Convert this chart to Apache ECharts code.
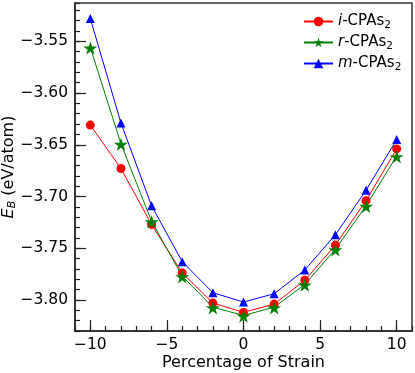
<!DOCTYPE html>
<html>
<head>
<meta charset="utf-8">
<script src="https://cdn.jsdelivr.net/npm/echarts@6/dist/echarts.min.js"></script>
<style>
  html, body { margin: 0; padding: 0; background: #fff; }
  #chart { width: 415px; height: 373px; }
</style>
</head>
<body>
<div id="chart"></div>
<script>
// strain values (%)
const strain = [-10, -8, -6, -4, -2, 0, 2, 4, 6, 8, 10]

// binding energies (eV/atom)
const iCPAs2 = [-3.631, -3.673, -3.727, -3.774, -3.803, -3.812, -3.804, -3.781, -3.747, -3.704, -3.654]
const rCPAs2 = [-3.556, -3.649, -3.724, -3.777, -3.807, -3.815, -3.807, -3.785, -3.751, -3.709, -3.661]
const mCPAs2 = [-3.528, -3.629, -3.709, -3.763, -3.793, -3.802, -3.794, -3.771, -3.737, -3.694, -3.645]

const xMajorTicks = [-10, -5, 0, 5, 10]
const yMajorTicks = [-3.80, -3.75, -3.70, -3.65, -3.60, -3.55]

const FONT = 'DejaVu Sans'
const STAR = 'path://M100,0L122.45,69.1L195.1,69.1L136.3,111.8L158.8,180.9L100,138.2L41.2,180.9L63.7,111.8L4.9,69.1L77.55,69.1Z'

const fmt = v => (v < 0 ? '\u2212' : '') + Math.abs(v)

const chart = echarts.init(document.getElementById('chart'))

const pairs = ys => strain.map((x, i) => [x, ys[i]])

const legendRich = {
  it: { fontFamily: FONT, fontSize: 15, fontStyle: 'italic', color: '#000' },
  n: { fontFamily: FONT, fontSize: 15, color: '#000' },
  sub: { fontFamily: FONT, fontSize: 10.5, color: '#000', verticalAlign: 'bottom', padding: [8, 0, 0, 0] }
}

// fresh objects for every axis
const spine = () => ({ show: true, onZero: false, lineStyle: { color: '#333', width: 1.5 } })
const minorTick = () => ({ show: true, inside: true, length: 5, lineStyle: { color: '#222', width: 1.2 } })
const majorTick = vals => ({ show: true, inside: true, length: 11, customValues: vals, lineStyle: { color: '#222', width: 1.2 } })
const noSplit = () => ({ show: true, lineStyle: { opacity: 0 } })

const option = {
  animation: false,
  grid: {
    left: 75, right: 3, top: 3, bottom: 42,
    outerBoundsMode: 'none',
    show: true, borderColor: '#333', borderWidth: 1.5
  },
  legend: {
    orient: 'vertical',
    left: 298,
    top: 9,
    itemWidth: 29,
    itemHeight: 12,
    itemGap: 4,
    textStyle: { fontFamily: FONT, fontSize: 15, color: '#000', rich: legendRich },
    formatter: name => {
      const p = name.split('-')
      return '{it|' + p[0] + '}{n|-CPAs}{sub|2}'
    },
    data: ['i-CPAs2', 'r-CPAs2', 'm-CPAs2']
  },
  xAxis: [
    {
      type: 'value', min: -11, max: 11, interval: 1, position: 'bottom',
      axisLine: spine(),
      axisTick: minorTick(),
      axisLabel: { show: false },
      splitLine: noSplit()
    },
    {
      type: 'value', min: -11, max: 11, position: 'bottom',
      axisLine: spine(),
      axisTick: majorTick(xMajorTicks),
      axisLabel: {
        customValues: xMajorTicks, formatter: fmt, margin: 6,
        fontFamily: FONT, fontSize: 15.5, color: '#000'
      },
      splitLine: noSplit(),
      name: 'Percentage of Strain',
      nameLocation: 'middle',
      nameGap: 24,
      nameMoveOverlap: false,
      nameTextStyle: { fontFamily: FONT, fontSize: 16, color: '#000' }
    }
  ],
  yAxis: [
    {
      type: 'value', min: -3.83, max: -3.513, interval: 0.01, position: 'left',
      axisLine: spine(),
      axisTick: minorTick(),
      axisLabel: { show: false },
      splitLine: noSplit()
    },
    {
      type: 'value', min: -3.83, max: -3.513, position: 'left',
      axisLine: spine(),
      axisTick: majorTick(yMajorTicks),
      axisLabel: {
        customValues: yMajorTicks, margin: 7,
        formatter: v => '\u2212' + Math.abs(v).toFixed(2),
        fontFamily: FONT, fontSize: 15.5, color: '#000'
      },
      splitLine: noSplit(),
      name: '{it|E}{sub|B}{n| (eV/atom)}',
      nameLocation: 'middle',
      nameGap: 57,
      nameMoveOverlap: false,
      nameTextStyle: {
        fontFamily: FONT, fontSize: 16, color: '#000',
        rich: {
          it: { fontFamily: FONT, fontSize: 16, fontStyle: 'italic', color: '#000' },
          n: { fontFamily: FONT, fontSize: 16, color: '#000' },
          sub: { fontFamily: FONT, fontSize: 11, fontStyle: 'italic', color: '#000', verticalAlign: 'bottom', padding: [8, 0, 0, 0] }
        }
      }
    }
  ],
  series: [
    {
      name: 'i-CPAs2', type: 'line', data: pairs(iCPAs2),
      symbol: 'circle', symbolSize: 9,
      lineStyle: { color: '#ff0000', width: 1 },
      itemStyle: { color: '#ff0000' }
    },
    {
      name: 'r-CPAs2', type: 'line', data: pairs(rCPAs2),
      symbol: STAR, symbolSize: [14, 13.3], symbolOffset: [0, 0.6],
      lineStyle: { color: '#008000', width: 1 },
      itemStyle: { color: '#008000' }
    },
    {
      name: 'm-CPAs2', type: 'line', data: pairs(mCPAs2),
      symbol: 'triangle', symbolSize: 9,
      lineStyle: { color: '#0000ff', width: 1 },
      itemStyle: { color: '#0000ff' }
    }
  ]
}

chart.setOption(option)
</script>
</body>
</html>
